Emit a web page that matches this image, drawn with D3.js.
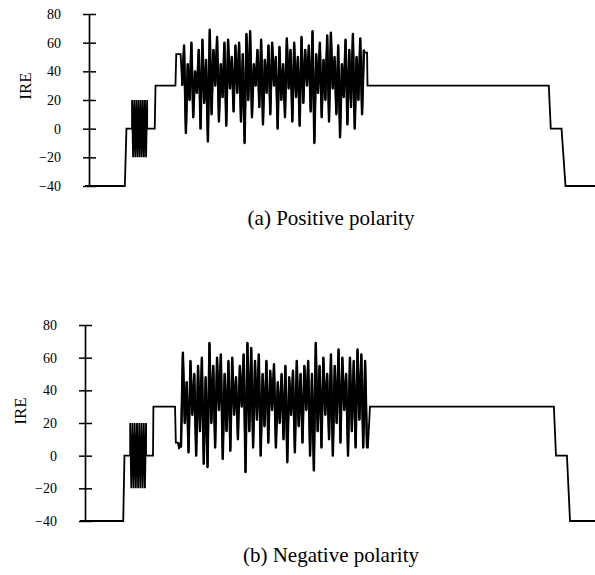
<!DOCTYPE html>
<html>
<head>
<meta charset="utf-8">
<script src="https://cdn.jsdelivr.net/npm/d3@7"></script>
<style>
  body { margin: 0; background: #fff; }
  svg text { font-family: "Liberation Serif", "DejaVu Serif", serif; fill: #000; }
</style>
</head>
<body>
<div id="container"></div>
<script>
var width = 595;
var height = 575;

// y axis ticks (IRE)
var yTicks = [-40, -20, 0, 20, 40, 60, 80];

// color burst, same in both panels
var burstVals = [20, -20, 20, -20, 20, -20, 20, -20, 20, -20, 20, -20, 20, -20, 20];

// (a) positive polarity -- times in microseconds
var topLeadT = [0, 5.0, 5.2, 5.9];
var topLeadV = [-40, -40, 0, 0];
var topBurstT = [5.9, 7.8];
var topMidT = [7.8, 8.75, 8.85, 11.35, 11.45, 12.0];
var topMidV = [0, 0, 30, 30, 52, 52];
var topVideoT = [12.2, 35.0];
var topVideo = [30, 58, -3, 45, 20, 60, 8, 40, 25, 55, 0, 62, 18, 48, -9, 69, 10, 55,
  30, 64, 5, 45, 22, 60, 2, 62, 28, 50, 12, 58, 25, 60, 5, 52, -10, 66, 20, 68,
  8, 45, 30, 55, 15, 62, 3, 48, 25, 58, 10, 60, 30, 50, 0, 57, 20, 45, 8, 63,
  28, 55, 5, 60, 22, 50, 2, 64, 18, 55, 30, 58, 12, 68, -10, 52, 25, 60, 8, 48,
  20, 65, 5, 67, 28, 50, 10, 58, -6, 45, 22, 62, 3, 55, 15, 66, 0, 50, 20, 63,
  10, 55];
var topTailT = [35.1, 35.4, 35.45, 58.2, 58.45, 59.8, 60.3, 64];
var topTailV = [53, 53, 30, 30, 0, 0, -40, -40];

// (b) negative polarity
var botLeadT = [0, 5.3, 5.45, 6.15];
var botLeadV = [-40, -40, 0, 0];
var botBurstT = [6.15, 8.1];
var botMidT = [8.1, 8.95, 9.0, 11.65, 11.75, 12.0, 12.15, 12.25];
var botMidV = [0, 0, 30, 30, 8, 8, 4, 8];
var botVideoT = [12.38, 35.19];
var botVideo = [5, 63, 20, 45, 2, 58, 25, 50, 0, 55, 15, 60, -5, 48, -7, 69, 20, 55,
  5, 60, 28, 62, -2, 50, 15, 58, 3, 60, 25, 48, 10, 55, 30, 62, -10, 69, 15, 66,
  5, 58, 22, 62, 0, 50, 18, 58, 8, 52, 28, 56, 5, 45, 20, 50, 10, 55, -4, 48,
  25, 52, 2, 58, 18, 50, 8, 55, 28, 58, 0, 50, -9, 69, 15, 55, 5, 60, 25, 50,
  10, 62, 0, 55, 20, 65, 8, 60, 28, 50, 0, 60, 15, 58, 5, 65, 22, 62, 5, 58,
  5];
var botTailT = [35.3, 35.55, 58.1, 58.36, 59.7, 60.08, 64];
var botTailV = [5, 30, 30, 0, 0, -40, -40];

var panels = [
  { caption: "(a) Positive polarity", axisX: 89, xr: [85, 595], yr: [186, 14], capY: 225, labY: 86, labX: 25,
    leadT: topLeadT, leadV: topLeadV, burstT: topBurstT, midT: topMidT, midV: topMidV,
    videoT: topVideoT, video: topVideo, tailT: topTailT, tailV: topTailV },
  { caption: "(b) Negative polarity", axisX: 85, xr: [80, 602], yr: [521, 325], capY: 562, labY: 411, labX: 20,
    leadT: botLeadT, leadV: botLeadV, burstT: botBurstT, midT: botMidT, midV: botMidV,
    videoT: botVideoT, video: botVideo, tailT: botTailT, tailV: botTailV }
];

function spread(range, vals) {
  // spread sampled values evenly over a time interval
  var n = vals.length - 1;
  return vals.map(function (v, i) { return [range[0] + (range[1] - range[0]) * i / n, v]; });
}
function pairs(ts, vs) {
  return ts.map(function (t, i) { return [t, vs[i]]; });
}

var svg = d3.select("#container").append("svg")
  .attr("width", width)
  .attr("height", height);

panels.forEach(function (p) {
  var x = d3.scaleLinear().domain([0, 64]).range(p.xr);
  var y = d3.scaleLinear().domain([-40, 80]).range(p.yr);

  var videoPts = spread(p.videoT, p.video);
  var pts = [].concat(
    pairs(p.leadT, p.leadV),
    spread(p.burstT, burstVals),
    pairs(p.midT, p.midV),
    videoPts,
    pairs(p.tailT, p.tailV)
  );

  var line = d3.line()
    .x(function (d) { return x(d[0]); })
    .y(function (d) { return y(d[1]); });

  svg.append("path")
    .datum(pts)
    .attr("d", line)
    .attr("fill", "none")
    .attr("stroke", "#000")
    .attr("stroke-width", 1.8)
    .attr("stroke-linejoin", "miter")
    .attr("stroke-miterlimit", 2);

  // the video part is printed heavier in the original
  svg.append("path")
    .datum(videoPts)
    .attr("d", line)
    .attr("fill", "none")
    .attr("stroke", "#000")
    .attr("stroke-width", 2.4)
    .attr("stroke-linejoin", "round");

  var axis = d3.axisLeft(y).tickValues(yTicks).tickSize(6).tickSizeOuter(0).tickPadding(22);
  var g = svg.append("g")
    .attr("transform", "translate(" + p.axisX + ",0)")
    .call(axis);
  g.select(".domain").attr("stroke", "#000").attr("stroke-width", 1.7);
  g.selectAll(".tick line").attr("x1", 7).attr("x2", -6).attr("stroke", "#000").attr("stroke-width", 1.5);
  g.selectAll(".tick text")
    .style("font-family", "'Liberation Serif', serif")
    .style("font-size", "14px")
    .attr("fill", "#000");

  svg.append("text")
    .attr("transform", "translate(" + p.labX + "," + p.labY + ") rotate(-90)")
    .attr("text-anchor", "middle")
    .attr("dy", "0.35em")
    .style("font-size", "17px")
    .text("IRE");

  svg.append("text")
    .attr("x", 331)
    .attr("y", p.capY)
    .attr("text-anchor", "middle")
    .style("font-size", "21px")
    .text(p.caption);
});
</script>
</body>
</html>
